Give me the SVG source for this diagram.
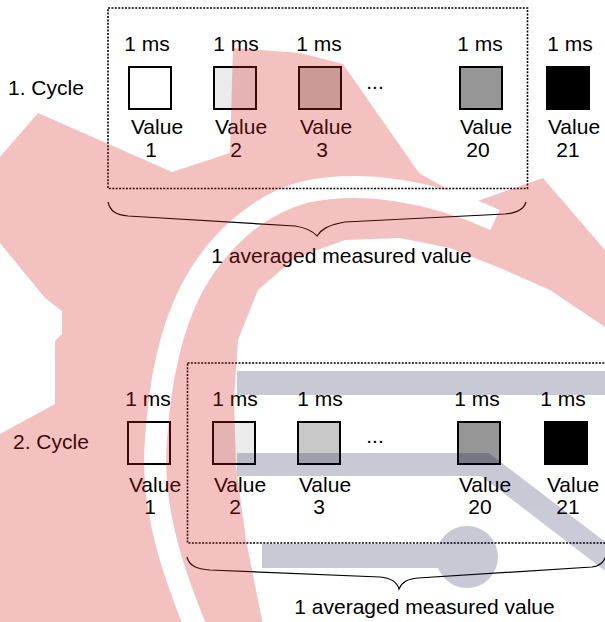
<svg xmlns="http://www.w3.org/2000/svg" width="605" height="622" viewBox="0 0 605 622">
<style>
.t{font-family:"Liberation Sans",Arial,sans-serif;font-size:21px;fill:#000}
.c{text-anchor:middle}
.box{stroke:#000;stroke-width:2}
.dash{fill:none;stroke:#000;stroke-width:1.6;stroke-dasharray:2 1.4}
.brace{fill:none;stroke:#000;stroke-width:1.2}
.f0{fill:#fff}.f1{fill:#ebebeb}.f2{fill:#c8c8c8}.f3{fill:#969696}.f4{fill:#000}
</style>
<defs>
<mask id="wmask" maskUnits="userSpaceOnUse" x="0" y="0" width="605" height="622">
<rect width="605" height="622" fill="#fff"/>
<path d="M205,650 C175,580 150,510 156,440 C160,380 170,330 192,288 C215,245 255,205 305,192 C360,180 430,190 495,220" fill="none" stroke="#000" stroke-width="22"/>
</mask>
</defs>
<rect width="605" height="622" fill="#fff"/>

<g id="cycle1">
<rect class="dash" x="108" y="8" width="419.5" height="180.5"/>
<text class="t" x="8" y="95">1. Cycle</text>
<g id="c1v1"><text class="t c" x="147" y="51">1 ms</text><rect class="box f0" x="129" y="67" width="42" height="42"/><text class="t c" x="157" y="134">Value</text><text class="t c" x="151" y="157">1</text></g>
<g id="c1v2"><text class="t c" x="236" y="51">1 ms</text><rect class="box f1" x="214" y="67" width="42" height="42"/><text class="t c" x="241" y="134">Value</text><text class="t c" x="236" y="157">2</text></g>
<g id="c1v3"><text class="t c" x="319" y="51">1 ms</text><rect class="box f2" x="299" y="67" width="42" height="42"/><text class="t c" x="326" y="134">Value</text><text class="t c" x="322" y="157">3</text></g>
<text class="t c" x="375" y="89">...</text>
<g id="c1v20"><text class="t c" x="480" y="51">1 ms</text><rect class="box f3" x="460" y="67" width="42" height="42"/><text class="t c" x="486" y="134">Value</text><text class="t c" x="478" y="157">20</text></g>
<g id="c1v21"><text class="t c" x="570" y="51">1 ms</text><rect class="box f4" x="547" y="67" width="42" height="42"/><text class="t c" x="574" y="134">Value</text><text class="t c" x="568" y="157">21</text></g>
<text class="t c" x="341.5" y="263">1 averaged measured value</text>
</g>

<g id="cycle2">
<rect class="dash" x="187.5" y="363" width="430" height="180"/>
<text class="t" x="13" y="449">2. Cycle</text>
<g id="c2v1"><text class="t c" x="148" y="406">1 ms</text><rect class="box f0" x="128" y="422" width="42" height="42"/><text class="t c" x="155" y="492">Value</text><text class="t c" x="150" y="514">1</text></g>
<g id="c2v2"><text class="t c" x="235" y="406">1 ms</text><rect class="box f1" x="213" y="422" width="42" height="42"/><text class="t c" x="240" y="492">Value</text><text class="t c" x="235" y="514">2</text></g>
<g id="c2v3"><text class="t c" x="320" y="406">1 ms</text><rect class="box f2" x="298" y="422" width="42" height="42"/><text class="t c" x="325" y="492">Value</text><text class="t c" x="319" y="514">3</text></g>
<text class="t c" x="375" y="443">...</text>
<g id="c2v20"><text class="t c" x="477" y="406">1 ms</text><rect class="box f3" x="458" y="422" width="42" height="42"/><text class="t c" x="485" y="492">Value</text><text class="t c" x="480" y="514">20</text></g>
<g id="c2v21"><text class="t c" x="563" y="406">1 ms</text><rect class="box f4" x="545" y="422" width="42" height="42"/><text class="t c" x="573" y="492">Value</text><text class="t c" x="568" y="514">21</text></g>
<text class="t c" x="424.5" y="614">1 averaged measured value</text>
</g>

<g id="connectors">
<path class="brace" d="M108,202 C110,211 116,215 128,216 L295,226 C307,228 313,231 317,236 C321,230 327,225 345,222 L505,214 C518,213 524,209 526,202"/>
<path class="brace" d="M187,557 C189,566 197,569 210,570 L380,577 C392,578 397,582 399,589 C402,582 407,579 418,578 L592,567 C600,566 604,562 606,556"/>
</g>

<g id="watermark">
<g opacity="0.28" mask="url(#wmask)">
<path fill="#d82424" d="M0,640 L0,434 L55,404 L55,341 L62,334 L62,311 L45,298 L0,243 L0,157 L38,113 L172,172 L230,153 L233,48 L300,53 L343,64 L419,173 L472,203 L543,178 L605,250 L605,327 L550,290 L500,268 L450,248 L400,238 L345,240 L295,258 L258,290 L238,340 L234,400 L236,466 L246,540 L266,640 Z"/>
</g>
<g opacity="0.22" fill="none" stroke="#10104a">
<path d="M237,383 L610,383" stroke-width="24"/>
<path d="M237,464.5 L485,464.5 L640,583" stroke-width="23" stroke-linejoin="miter"/>
<path d="M262,556 L467,556" stroke-width="24"/>
<circle cx="467" cy="557" r="31" fill="#10104a" stroke="none"/>
</g>
</g>
</svg>
